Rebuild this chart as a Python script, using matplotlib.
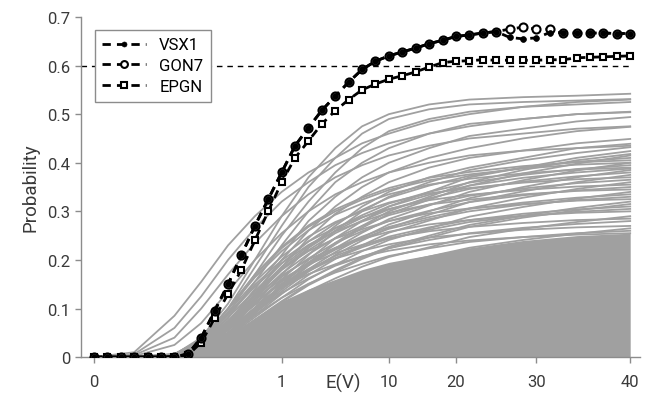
import matplotlib
matplotlib.use("Agg")
import matplotlib.pyplot as plt
import numpy as np

plt.rcParams['font.family'] = ['Roboto', 'DejaVu Sans']

# ---------------- data ----------------
# sample index along the E(V) axis (41 measurement steps)
x_index = list(range(41))
x_tick_index = [0, 14, 22, 27, 33, 40]
x_tick_labels = ['0', '1', '10', '20', '30', '40']
y_ticks = [0, 0.1, 0.2, 0.3, 0.4, 0.5, 0.6, 0.7]
y_tick_labels = ['0', '0.1', '0.2', '0.3', '0.4', '0.5', '0.6', '0.7']
threshold = 0.6

vsx1 = [0, 0, 0, 0, 0, 0, 0.001, 0.006, 0.04, 0.095, 0.15, 0.21, 0.27, 0.325, 0.38,
        0.435, 0.472, 0.508, 0.537, 0.566, 0.592, 0.609, 0.62, 0.628, 0.636, 0.645,
        0.652, 0.66, 0.663, 0.667, 0.67, 0.658, 0.655, 0.657, 0.668, 0.668, 0.667,
        0.667, 0.667, 0.666, 0.666]
gon7 = [0, 0, 0, 0, 0, 0, 0.001, 0.006, 0.04, 0.095, 0.15, 0.21, 0.27, 0.325, 0.38,
        0.435, 0.472, 0.508, 0.537, 0.566, 0.592, 0.609, 0.62, 0.628, 0.636, 0.645,
        0.652, 0.66, 0.663, 0.667, 0.67, 0.675, 0.679, 0.675, 0.675, 0.668, 0.667,
        0.667, 0.667, 0.666, 0.666]
epgn = [0, 0, 0, 0, 0, 0, 0, 0.004, 0.03, 0.08, 0.13, 0.18, 0.24, 0.30, 0.36,
        0.41, 0.445, 0.48, 0.507, 0.53, 0.55, 0.562, 0.572, 0.579, 0.587, 0.597,
        0.606, 0.609, 0.61, 0.612, 0.611, 0.611, 0.611, 0.611, 0.612, 0.612, 0.616,
        0.617, 0.618, 0.619, 0.62]

# background (other genes) curves, read at a sparse set of indices
bg_index = [0, 3, 6, 8, 10, 12, 14, 16, 18, 20, 22, 25, 28, 32, 36, 40]
bg_curves = [
    [0, 0.01, 0.085, 0.155, 0.23, 0.29, 0.34, 0.38, 0.41, 0.44, 0.46, 0.485, 0.50, 0.515, 0.525, 0.53],
    [0, 0.006, 0.06, 0.125, 0.2, 0.265, 0.32, 0.36, 0.395, 0.42, 0.44, 0.46, 0.475, 0.49, 0.50, 0.505],
    [0, 0.004, 0.04, 0.10, 0.17, 0.235, 0.29, 0.335, 0.37, 0.395, 0.415, 0.435, 0.45, 0.46, 0.47, 0.475],
    [0, 0.002, 0.025, 0.07, 0.135, 0.2, 0.255, 0.3, 0.335, 0.36, 0.38, 0.40, 0.415, 0.425, 0.43, 0.435],
    [0, 0, 0.005, 0.04, 0.11, 0.2, 0.29, 0.37, 0.43, 0.475, 0.50, 0.52, 0.53, 0.535, 0.538, 0.542],
    [0, 0, 0.004, 0.035, 0.10, 0.185, 0.27, 0.35, 0.41, 0.46, 0.49, 0.51, 0.52, 0.525, 0.528, 0.531],
    [0, 0, 0.003, 0.03, 0.09, 0.17, 0.25, 0.32, 0.38, 0.43, 0.465, 0.49, 0.505, 0.515, 0.52, 0.525],
    [0, 0, 0.003, 0.025, 0.08, 0.155, 0.23, 0.30, 0.36, 0.40, 0.43, 0.46, 0.48, 0.49, 0.50, 0.504],
    [0, 0, 0.002, 0.02, 0.07, 0.14, 0.21, 0.28, 0.33, 0.37, 0.40, 0.43, 0.455, 0.47, 0.485, 0.494],
    [0, 0, 0.002, 0.02, 0.065, 0.13, 0.2, 0.26, 0.31, 0.35, 0.38, 0.41, 0.43, 0.45, 0.465, 0.474],
    [0, 0, 0.002, 0.018, 0.06, 0.12, 0.185, 0.245, 0.295, 0.33, 0.36, 0.39, 0.41, 0.425, 0.44, 0.449],
    [0, 0, 0.001, 0.015, 0.055, 0.11, 0.17, 0.225, 0.27, 0.31, 0.34, 0.37, 0.39, 0.41, 0.43, 0.439],
    [0, 0, 0.001, 0.015, 0.05, 0.10, 0.16, 0.21, 0.26, 0.30, 0.33, 0.36, 0.385, 0.405, 0.42, 0.432],
    [0, 0, 0.001, 0.012, 0.045, 0.095, 0.15, 0.20, 0.245, 0.28, 0.31, 0.34, 0.37, 0.39, 0.41, 0.424],
    [0, 0, 0.001, 0.012, 0.045, 0.09, 0.145, 0.19, 0.235, 0.27, 0.30, 0.33, 0.36, 0.385, 0.405, 0.418],
    [0, 0, 0.004, 0.025, 0.074, 0.135, 0.193, 0.238, 0.275, 0.303, 0.328, 0.353, 0.373, 0.39, 0.402, 0.41],
    [0, 0, 0.006, 0.036, 0.10, 0.17, 0.227, 0.271, 0.304, 0.328, 0.348, 0.369, 0.381, 0.393, 0.401, 0.405],
    [0, 0, 0.002, 0.016, 0.048, 0.096, 0.144, 0.188, 0.224, 0.256, 0.284, 0.312, 0.34, 0.364, 0.384, 0.40],
    [0, 0, 0.004, 0.024, 0.071, 0.13, 0.186, 0.229, 0.265, 0.292, 0.316, 0.34, 0.359, 0.375, 0.387, 0.395],
    [0, 0, 0.006, 0.035, 0.098, 0.164, 0.218, 0.261, 0.293, 0.316, 0.335, 0.355, 0.367, 0.378, 0.386, 0.39],
    [0, 0, 0.002, 0.015, 0.046, 0.092, 0.139, 0.181, 0.216, 0.246, 0.273, 0.30, 0.327, 0.35, 0.37, 0.385],
    [0, 0, 0.004, 0.023, 0.068, 0.125, 0.179, 0.22, 0.255, 0.281, 0.304, 0.327, 0.346, 0.361, 0.372, 0.38],
    [0, 0, 0.006, 0.033, 0.093, 0.155, 0.207, 0.248, 0.278, 0.30, 0.318, 0.337, 0.348, 0.359, 0.366, 0.37],
    [0, 0, 0.004, 0.022, 0.066, 0.12, 0.172, 0.212, 0.245, 0.27, 0.292, 0.314, 0.332, 0.347, 0.358, 0.365],
    [0, 0, 0.002, 0.014, 0.043, 0.086, 0.13, 0.169, 0.202, 0.23, 0.256, 0.281, 0.306, 0.328, 0.346, 0.36],
    [0, 0, 0.0035, 0.021, 0.063, 0.116, 0.165, 0.203, 0.235, 0.259, 0.28, 0.301, 0.319, 0.333, 0.343, 0.35],
    [0, 0, 0.005, 0.031, 0.086, 0.145, 0.193, 0.231, 0.259, 0.279, 0.297, 0.314, 0.324, 0.335, 0.342, 0.345],
    [0, 0, 0.002, 0.014, 0.041, 0.082, 0.122, 0.16, 0.19, 0.218, 0.241, 0.265, 0.289, 0.309, 0.326, 0.34],
    [0, 0, 0.003, 0.02, 0.059, 0.109, 0.155, 0.191, 0.221, 0.244, 0.264, 0.284, 0.30, 0.314, 0.323, 0.33],
    [0, 0, 0.005, 0.029, 0.081, 0.137, 0.182, 0.218, 0.244, 0.263, 0.28, 0.296, 0.306, 0.315, 0.322, 0.325],
    [0, 0, 0.002, 0.013, 0.038, 0.077, 0.115, 0.15, 0.179, 0.205, 0.227, 0.25, 0.272, 0.291, 0.307, 0.32],
    [0, 0, 0.003, 0.019, 0.056, 0.102, 0.146, 0.18, 0.208, 0.229, 0.248, 0.267, 0.282, 0.295, 0.304, 0.31],
    [0, 0, 0.0045, 0.027, 0.075, 0.126, 0.168, 0.201, 0.225, 0.243, 0.258, 0.273, 0.282, 0.291, 0.297, 0.30],
    [0, 0, 0.0015, 0.012, 0.035, 0.07, 0.104, 0.136, 0.162, 0.186, 0.206, 0.226, 0.247, 0.264, 0.278, 0.29],
    [0, 0, 0.003, 0.017, 0.05, 0.092, 0.132, 0.162, 0.188, 0.207, 0.224, 0.241, 0.255, 0.266, 0.274, 0.28],
    [0, 0, 0.004, 0.024, 0.068, 0.113, 0.151, 0.181, 0.203, 0.219, 0.232, 0.246, 0.254, 0.262, 0.267, 0.27],
    [0, 0, 0.0026, 0.016, 0.047, 0.086, 0.122, 0.151, 0.174, 0.192, 0.208, 0.224, 0.237, 0.247, 0.255, 0.26],
    [0, 0, 0.002, 0.017, 0.05, 0.10, 0.149, 0.195, 0.232, 0.266, 0.295, 0.324, 0.353, 0.378, 0.398, 0.415],
    [0, 0, 0.006, 0.036, 0.10, 0.168, 0.224, 0.268, 0.30, 0.324, 0.344, 0.364, 0.376, 0.388, 0.396, 0.40],
    [0, 0, 0.004, 0.023, 0.07, 0.128, 0.182, 0.225, 0.26, 0.287, 0.31, 0.334, 0.353, 0.369, 0.38, 0.388],
    [0, 0, 0.002, 0.015, 0.045, 0.09, 0.135, 0.176, 0.21, 0.24, 0.266, 0.293, 0.319, 0.341, 0.36, 0.375],
    [0, 0, 0.005, 0.032, 0.089, 0.149, 0.199, 0.238, 0.266, 0.288, 0.305, 0.323, 0.334, 0.344, 0.351, 0.355],
    [0, 0, 0.003, 0.02, 0.06, 0.111, 0.157, 0.194, 0.224, 0.248, 0.268, 0.288, 0.305, 0.318, 0.328, 0.335],
    [0, 0, 0.0016, 0.013, 0.038, 0.076, 0.113, 0.148, 0.176, 0.202, 0.224, 0.246, 0.268, 0.287, 0.302, 0.315],
    [0, 0, 0.003, 0.018, 0.055, 0.10, 0.143, 0.177, 0.204, 0.226, 0.244, 0.262, 0.278, 0.29, 0.299, 0.305],
    [0, 0, 0.004, 0.026, 0.071, 0.12, 0.16, 0.191, 0.214, 0.231, 0.245, 0.259, 0.268, 0.276, 0.282, 0.285],
    [0, 0, 0.0013, 0.011, 0.032, 0.064, 0.095, 0.125, 0.148, 0.17, 0.188, 0.207, 0.225, 0.241, 0.254, 0.265],
    [0, 0, 0.004, 0.023, 0.064, 0.107, 0.143, 0.171, 0.191, 0.207, 0.219, 0.232, 0.24, 0.247, 0.252, 0.255],
]
# upper edge of the densely overlapping mass of background curves
bg_dense_top = [0, 0, 0.002, 0.012, 0.045, 0.08, 0.115, 0.14, 0.16, 0.18, 0.195, 0.21, 0.225, 0.24, 0.25, 0.255]

# ---------------- plot ----------------
GRAY = '#a0a0a0'
fig = plt.figure(figsize=(6.5, 4.06), dpi=100)
ax = fig.add_axes([0.1246, 0.118, 0.8604, 0.8377])

ax.fill_between(bg_index, 0, bg_dense_top, color=GRAY, lw=0, zorder=1)
for c in bg_curves:
    ax.plot(bg_index, c, color=GRAY, lw=1.3, zorder=1.5)

ax.hlines(threshold, -1, x_index[-1], colors='black', linestyles=(0, (4, 3.5)), lw=1.0, zorder=2)

dash = (0, (3.0, 2.2))
ax.plot(x_index, epgn, linestyle=dash, color='black', lw=2, marker='s', ms=4.5,
        mfc='white', mec='black', mew=1.5, label='EPGN', zorder=3)
ax.plot(x_index, gon7, linestyle=dash, color='black', lw=2, marker='o', ms=5.8,
        mfc='white', mec='black', mew=1.5, label='GON7', zorder=4)
ax.plot(x_index, vsx1, linestyle=dash, color='black', lw=2, marker='o', ms=4.2,
        mfc='black', mec='black', mew=0.5, label='VSX1', zorder=5)

ax.set_xlim(-0.97, 40.75)
ax.set_ylim(0, 0.7)
ax.set_xticks(x_tick_index)
ax.set_xticklabels(x_tick_labels)
ax.set_yticks(y_ticks)
ax.set_yticklabels(y_tick_labels)

for s in ['top', 'right']:
    ax.spines[s].set_visible(False)
for s in ['left', 'bottom']:
    ax.spines[s].set_color('#8c8c8c')
    ax.spines[s].set_linewidth(1.0)
ax.tick_params(axis='both', colors='#8c8c8c', labelcolor='#3a3a3a', labelsize=12, length=4.5, width=1.0)
ax.tick_params(axis='x', pad=8)
ax.tick_params(axis='y', pad=3)

ax.set_ylabel('Probability', fontsize=13.5, color='#3a3a3a')
ax.yaxis.set_label_coords(-0.075, 0.5)
ax.set_xlabel('E(V)', fontsize=13.5, color='#3a3a3a')
ax.xaxis.set_label_coords(0.469, -0.045)

handles, labels = ax.get_legend_handles_labels()
order = [2, 1, 0]
leg = ax.legend([handles[i] for i in order], [labels[i] for i in order],
                loc='upper left', bbox_to_anchor=(0.025, 0.962), fontsize=12,
                frameon=True, fancybox=False, framealpha=1, edgecolor='#8c8c8c',
                handlelength=2.6, markerscale=0.85, borderpad=0.45, labelspacing=0.35,
                handletextpad=0.8, borderaxespad=0)
leg.get_frame().set_linewidth(1.0)
leg.set_zorder(10)

fig.savefig('out.png', dpi=100)
